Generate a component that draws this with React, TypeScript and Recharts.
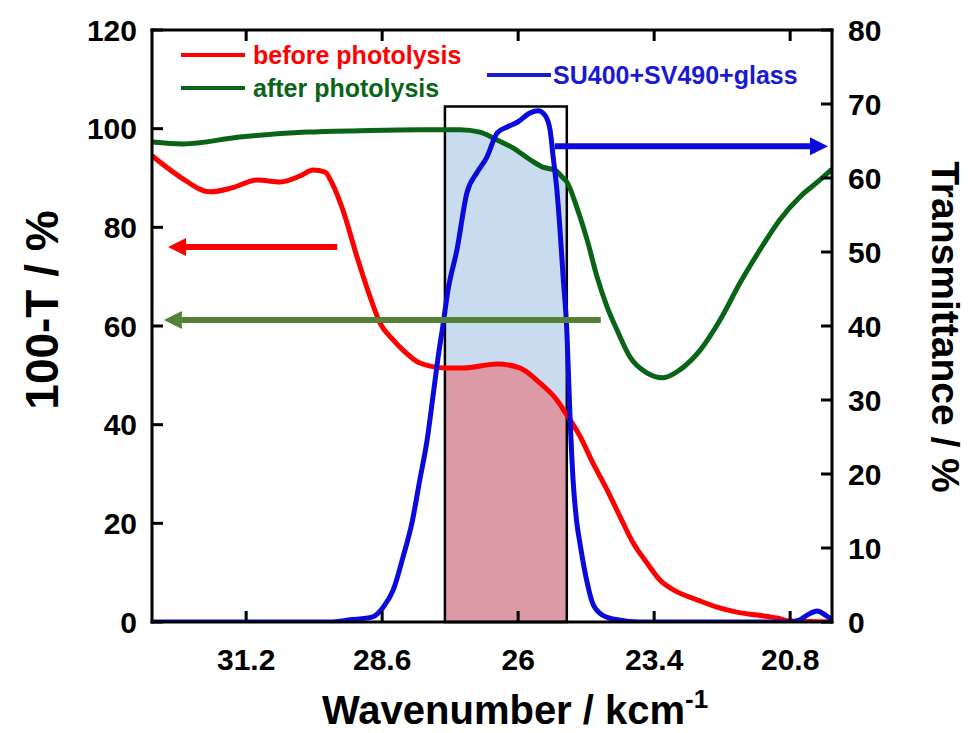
import React from 'react';
import { ComposedChart, Line, Area, XAxis, YAxis, ReferenceArea } from 'recharts';

const FONT = '"Liberation Sans", Arial, Helvetica, sans-serif';

// axes
const xTicks = [31.2, 28.6, 26, 23.4, 20.8];
const leftTicks = [0, 20, 40, 60, 80, 100, 120];
const rightTicks = [0, 10, 20, 30, 40, 50, 60, 70, 80];

// before photolysis (100-T / %, left axis)
const beforeWn = [33.0, 32.46, 31.89, 31.47, 30.99, 30.55, 30.17, 29.92, 29.69, 29.56, 29.35, 29.08, 28.83, 28.64, 28.39, 28.2, 27.88, 27.4, 27.05, 26.4, 25.97, 25.58, 25.26, 25.07, 24.82, 24.57, 24.3, 24.05, 23.8, 23.54, 23.29, 22.96, 22.58, 22.2, 21.82, 21.43, 21.05, 20.8, 20.42, 20.0];
const beforeVal = [94.5, 90.2, 87.2, 88.0, 89.6, 89.2, 90.4, 91.6, 91.2, 89.0, 83.5, 74.0, 65.9, 60.6, 57.2, 55.1, 52.5, 51.5, 51.5, 52.3, 51.5, 48.4, 45.0, 42.0, 37.7, 32.2, 26.8, 21.3, 16.0, 12.0, 8.5, 6.1, 4.5, 3.0, 2.0, 1.4, 0.8, 0.2, 0.1, 0];

// after photolysis (100-T / %, left axis)
const afterWn = [33.0, 32.41, 31.32, 30.04, 29.02, 27.88, 27.4, 27.11, 26.73, 26.4, 26.1, 25.77, 25.53, 25.3, 25.14, 25.07, 24.88, 24.68, 24.49, 24.3, 24.11, 23.86, 23.54, 23.23, 22.91, 22.52, 22.14, 21.76, 21.38, 21.0, 20.61, 20.23, 20.0];
const afterVal = [97.3, 96.9, 98.3, 99.3, 99.6, 99.8, 99.8, 99.8, 99.3, 97.7, 96.1, 93.7, 92.2, 91.6, 90.0, 89.2, 84.1, 77.4, 69.9, 63.9, 59.2, 53.7, 50.5, 49.5, 51.1, 55.1, 61.2, 68.7, 75.4, 81.5, 86.2, 89.6, 91.8];

// SU400+SV490+glass (transmittance / %, right axis)
const filterWn = [33.0, 29.6, 29.21, 28.78, 28.58, 28.39, 28.2, 28.03, 27.88, 27.74, 27.63, 27.53, 27.44, 27.34, 27.17, 26.98, 26.79, 26.6, 26.4, 26.21, 26.0, 25.77, 25.62, 25.49, 25.39, 25.33, 25.26, 25.2, 25.14, 25.07, 25.01, 24.95, 24.88, 24.82, 24.68, 24.59, 24.44, 24.19, 23.67, 20.8, 20.61, 20.46, 20.28, 20.12, 20.0];
const filterVal = [0, 0, 0.3, 0.7, 2.0, 4.3, 8.8, 13.4, 19.2, 24.6, 30.4, 35.8, 40.0, 44.9, 50.3, 58.0, 60.7, 62.8, 66.1, 66.9, 67.6, 68.8, 69.1, 68.5, 66.5, 62.8, 58.4, 53.0, 46.6, 39.5, 28.0, 19.2, 13.5, 10.7, 5.3, 2.8, 1.2, 0.4, 0, 0, 0.3, 1.0, 1.5, 0.9, 0.3];

// irradiation window box
const boxFrom = 27.4;
const boxTo = 25.07;
const boxTop = 104.5;

// arrows: [tail, head] wavenumbers and level
const beforeArrowWn = [29.46, 32.54];
const beforeArrowVal = 76;
const afterArrowWn = [24.42, 32.62];
const afterArrowVal = 61.2;
const filterArrowWn = [25.3, 20.23];
const filterArrowVal = 64.3;

const RED = '#ff0000';
const GREEN = '#0a6418';
const BLUE = '#0a0adc';

const toPoints = (wn: number[], vals: number[]) => wn.map((w, i) => ({ wn: w, v: vals[i] }));
const inBox = (pts: { wn: number; v: number }[]) =>
  pts.filter((p) => p.wn <= boxFrom + 1e-6 && p.wn >= boxTo - 1e-6);
const arrow = (wn: number[], v: number, head: 'left' | 'right') => [
  { wn: wn[0], v },
  { wn: wn[1], v, head },
];

const beforeData = toPoints(beforeWn, beforeVal);
const afterData = toPoints(afterWn, afterVal);
const filterData = toPoints(filterWn, filterVal);

const arrowHead = (color: string) => (props: any) => {
  const { cx, cy, payload, index } = props;
  if (!payload || !payload.head) return <g key={index} />;
  const dir = payload.head === 'left' ? -1 : 1;
  const tip = cx + dir * 8;
  const base = cx - dir * 10;
  return (
    <polygon
      key={index}
      points={`${tip},${cy} ${base},${cy - 9} ${base},${cy + 9}`}
      fill={color}
    />
  );
};

const tickText = { fontFamily: FONT, fontWeight: 700, fontSize: 30, fill: '#000' };

const BottomTick = (props: any) => {
  const { x, y, payload } = props;
  return (
    <g>
      <line x1={x} x2={x} y1={y} y2={y - 11} stroke="#000" strokeWidth={3} />
      <text x={x} y={y + 48} textAnchor="middle" {...tickText}>
        {payload.value}
      </text>
    </g>
  );
};

const TopTick = (props: any) => {
  const { x, y } = props;
  return <line x1={x} x2={x} y1={y} y2={y + 11} stroke="#000" strokeWidth={3} />;
};

const LeftTick = (props: any) => {
  const { x, y, payload } = props;
  return (
    <g>
      <line x1={x} x2={x + 11} y1={y} y2={y} stroke="#000" strokeWidth={3} />
      <text x={x - 15} y={y + 10.5} textAnchor="end" {...tickText}>
        {payload.value}
      </text>
    </g>
  );
};

const RightTick = (props: any) => {
  const { x, y, payload } = props;
  return (
    <g>
      <line x1={x} x2={x - 11} y1={y} y2={y} stroke="#000" strokeWidth={3} />
      <text x={x + 16} y={y + 10.5} textAnchor="start" {...tickText}>
        {payload.value}
      </text>
    </g>
  );
};

const axisLine = { stroke: '#000', strokeWidth: 3, strokeLinecap: 'square' as const };

const legendItems = [
  { label: 'before photolysis', color: RED, lineX: 181, textX: 253, y: 55 },
  { label: 'after photolysis', color: GREEN, lineX: 181, textX: 253, y: 88 },
  { label: 'SU400+SV490+glass', color: '#1a1ad2', lineX: 487, textX: 553, y: 75 },
];

export default function App() {
  return (
    <div style={{ position: 'absolute', left: 0, top: 0, width: 968, height: 733, background: '#fff' }}>
      <ComposedChart width={968} height={733} margin={{ top: 10, right: 0, bottom: 0, left: 0 }}>
        <XAxis
          xAxisId={0}
          type="number"
          dataKey="wn"
          domain={[20, 33]}
          reversed
          allowDataOverflow
          ticks={xTicks}
          interval={0}
          height={111}
          tickSize={0}
          tickMargin={0}
          tickLine={false}
          axisLine={axisLine}
          tick={<BottomTick />}
          label={() => (
            <text x={322} y={724} fontFamily={FONT} fontWeight={700} fontSize={40} fill="#000">
              Wavenumber / kcm
              <tspan fontSize={26} dy={-16}>-1</tspan>
            </text>
          )}
        />
        <XAxis
          xAxisId="top"
          orientation="top"
          type="number"
          dataKey="wn"
          domain={[20, 33]}
          reversed
          allowDataOverflow
          ticks={xTicks}
          interval={0}
          height={20}
          tickSize={0}
          tickMargin={0}
          tickLine={false}
          axisLine={axisLine}
          tick={<TopTick />}
        />
        <YAxis
          yAxisId="left"
          type="number"
          domain={[0, 120]}
          allowDataOverflow
          ticks={leftTicks}
          interval={0}
          width={152}
          tickSize={0}
          tickMargin={0}
          tickLine={false}
          axisLine={axisLine}
          tick={<LeftTick />}
          label={() => (
            <text
              x={42}
              y={310}
              transform="rotate(-90 42 310)"
              textAnchor="middle"
              dominantBaseline="central"
              fontFamily={FONT}
              fontWeight={700}
              fontSize={46}
              fill="#000"
            >
              100-T / %
            </text>
          )}
        />
        <YAxis
          yAxisId="right"
          orientation="right"
          type="number"
          domain={[0, 80]}
          allowDataOverflow
          ticks={rightTicks}
          interval={0}
          width={136}
          tickSize={0}
          tickMargin={0}
          tickLine={false}
          axisLine={axisLine}
          tick={<RightTick />}
          label={() => (
            <text
              x={945}
              y={327}
              transform="rotate(90 945 327)"
              textAnchor="middle"
              dominantBaseline="central"
              fontFamily={FONT}
              fontWeight={700}
              fontSize={39}
              fill="#000"
            >
              Transmittance / %
            </text>
          )}
        />

        <Area
          data={inBox(afterData)}
          dataKey="v"
          yAxisId="left"
          type="monotone"
          fill="#c9dcef"
          fillOpacity={1}
          stroke="none"
          isAnimationActive={false}
        />
        <Area
          data={inBox(beforeData)}
          dataKey="v"
          yAxisId="left"
          type="monotone"
          fill="#db9aa6"
          fillOpacity={1}
          stroke="none"
          isAnimationActive={false}
        />
        <ReferenceArea
          yAxisId="left"
          x1={boxFrom}
          x2={boxTo}
          y1={0}
          y2={boxTop}
          fill="none"
          stroke="#000"
          strokeWidth={2.5}
          ifOverflow="visible"
        />

        <Line
          data={beforeData}
          dataKey="v"
          yAxisId="left"
          type="monotone"
          stroke={RED}
          strokeWidth={5}
          dot={false}
          activeDot={false}
          isAnimationActive={false}
        />
        <Line
          data={afterData}
          dataKey="v"
          yAxisId="left"
          type="monotone"
          stroke={GREEN}
          strokeWidth={5}
          dot={false}
          activeDot={false}
          isAnimationActive={false}
        />
        <Line
          data={filterData}
          dataKey="v"
          yAxisId="right"
          type="monotone"
          stroke={BLUE}
          strokeWidth={5}
          dot={false}
          activeDot={false}
          isAnimationActive={false}
        />

        <Line
          data={arrow(beforeArrowWn, beforeArrowVal, 'left')}
          dataKey="v"
          yAxisId="left"
          type="linear"
          stroke={RED}
          strokeWidth={6}
          dot={arrowHead(RED)}
          activeDot={false}
          isAnimationActive={false}
        />
        <Line
          data={arrow(afterArrowWn, afterArrowVal, 'left')}
          dataKey="v"
          yAxisId="left"
          type="linear"
          stroke="#548235"
          strokeWidth={6}
          dot={arrowHead('#548235')}
          activeDot={false}
          isAnimationActive={false}
        />
        <Line
          data={arrow(filterArrowWn, filterArrowVal, 'right')}
          dataKey="v"
          yAxisId="right"
          type="linear"
          stroke={BLUE}
          strokeWidth={6}
          dot={arrowHead(BLUE)}
          activeDot={false}
          isAnimationActive={false}
        />
      </ComposedChart>

      {legendItems.map((it) => (
        <div key={it.label}>
          <div
            style={{
              position: 'absolute',
              left: it.lineX,
              top: it.y - 2,
              width: 64,
              height: 4,
              background: it.color,
            }}
          />
          <div
            style={{
              position: 'absolute',
              left: it.textX,
              top: it.y - 15,
              height: 30,
              lineHeight: '30px',
              fontFamily: FONT,
              fontWeight: 700,
              fontSize: 25,
              color: it.color,
              whiteSpace: 'nowrap',
            }}
          >
            {it.label}
          </div>
        </div>
      ))}
    </div>
  );
}
